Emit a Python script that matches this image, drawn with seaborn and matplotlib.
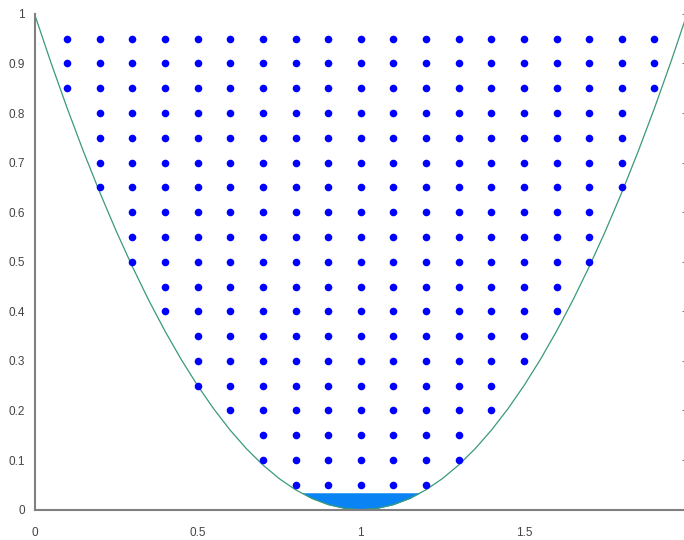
import matplotlib

matplotlib.use("Agg")
import matplotlib.pyplot as plt
import pandas as pd
import seaborn as sns

CURVE_X = [
    0.0, 0.05, 0.1, 0.15, 0.2, 0.25, 0.3, 0.35, 0.4, 0.45,
    0.5, 0.55, 0.6, 0.65, 0.7, 0.75, 0.8, 0.85, 0.9, 0.95,
    1.0, 1.05, 1.1, 1.15, 1.2, 1.25, 1.3, 1.35, 1.4, 1.45,
    1.5, 1.55, 1.6, 1.65, 1.7, 1.75, 1.8, 1.85, 1.9, 1.95, 2.0,
]
CURVE_Y = [
    1.0, 0.9025, 0.81, 0.7225, 0.64, 0.5625, 0.49, 0.4225, 0.36, 0.3025,
    0.25, 0.2025, 0.16, 0.1225, 0.09, 0.0625, 0.04, 0.0225, 0.01, 0.0025,
    0.0, 0.0025, 0.01, 0.0225, 0.04, 0.0625, 0.09, 0.1225, 0.16, 0.2025,
    0.25, 0.3025, 0.36, 0.4225, 0.49, 0.5625, 0.64, 0.7225, 0.81, 0.9025, 1.0,
]

# dot grid: columns and the rows each column starts at
DOT_COLUMNS = [0.1, 0.2, 0.3, 0.4, 0.5, 0.6, 0.7, 0.8, 0.9, 1.0,
               1.1, 1.2, 1.3, 1.4, 1.5, 1.6, 1.7, 1.8, 1.9]
DOT_LOWEST = [0.85, 0.65, 0.5, 0.4, 0.25, 0.2, 0.1, 0.05, 0.05, 0.05,
              0.05, 0.05, 0.1, 0.2, 0.3, 0.4, 0.5, 0.65, 0.85]
DOT_LEVELS = [0.05, 0.1, 0.15, 0.2, 0.25, 0.3, 0.35, 0.4, 0.45, 0.5,
              0.55, 0.6, 0.65, 0.7, 0.75, 0.8, 0.85, 0.9, 0.95]

FILL_TOP = 0.034

# the "2" tick sits on the right edge, its label falls outside the picture
X_TICKS = [0, 0.5, 1, 1.5, 2]
X_LABELS = ["0", "0.5", "1", "1.5", ""]
Y_TICKS = [0, 0.1, 0.2, 0.3, 0.4, 0.5, 0.6, 0.7, 0.8, 0.9, 1]
Y_LABELS = ["0", "0.1", "0.2", "0.3", "0.4", "0.5", "0.6", "0.7", "0.8", "0.9", "1"]

GREY = "#808080"

rows = []
for col, low in zip(DOT_COLUMNS, DOT_LOWEST):
    for level in DOT_LEVELS:
        if level >= low - 1e-9:
            rows.append({"x": col, "y": level})
dots = pd.DataFrame(rows)
curve = pd.DataFrame({"x": CURVE_X, "y": CURVE_Y})

sns.set_style("white")
plt.rcParams["font.family"] = ["Liberation Sans", "DejaVu Sans"]

fig = plt.figure(figsize=(6.84, 5.40), dpi=100)
ax = fig.add_axes([34.5 / 684, 30.4 / 540, 652.6 / 684, 495.7 / 540])

ax.fill_between(
    curve["x"], curve["y"], FILL_TOP,
    where=curve["y"] <= FILL_TOP, interpolate=True,
    color="#0a84f5", linewidth=0, zorder=1,
)
sns.lineplot(data=curve, x="x", y="y", ax=ax, sort=False, estimator=None,
             color="#3a9a78", linewidth=0.9, zorder=2)
sns.scatterplot(data=dots, x="x", y="y", ax=ax, color="#0000ff", s=30,
                linewidth=0, zorder=3)

ax.set_xlim(0, 2)
ax.set_ylim(0, 1)
ax.set_xlabel("")
ax.set_ylabel("")
ax.set_xticks(X_TICKS)
ax.set_xticklabels(X_LABELS)
ax.set_yticks(Y_TICKS)
ax.set_yticklabels(Y_LABELS)

for side in ["top", "right"]:
    ax.spines[side].set_visible(False)
for side in ["left", "bottom"]:
    ax.spines[side].set_color(GREY)
    ax.spines[side].set_linewidth(1.5)

ax.tick_params(axis="both", direction="in", length=3.5, width=0.8, color=GREY,
               labelsize=8.5, labelcolor="#444444")
ax.tick_params(axis="y", right=True, pad=7)
ax.tick_params(axis="x", pad=12.5)

fig.savefig("out.png", dpi=100)
plt.close(fig)
